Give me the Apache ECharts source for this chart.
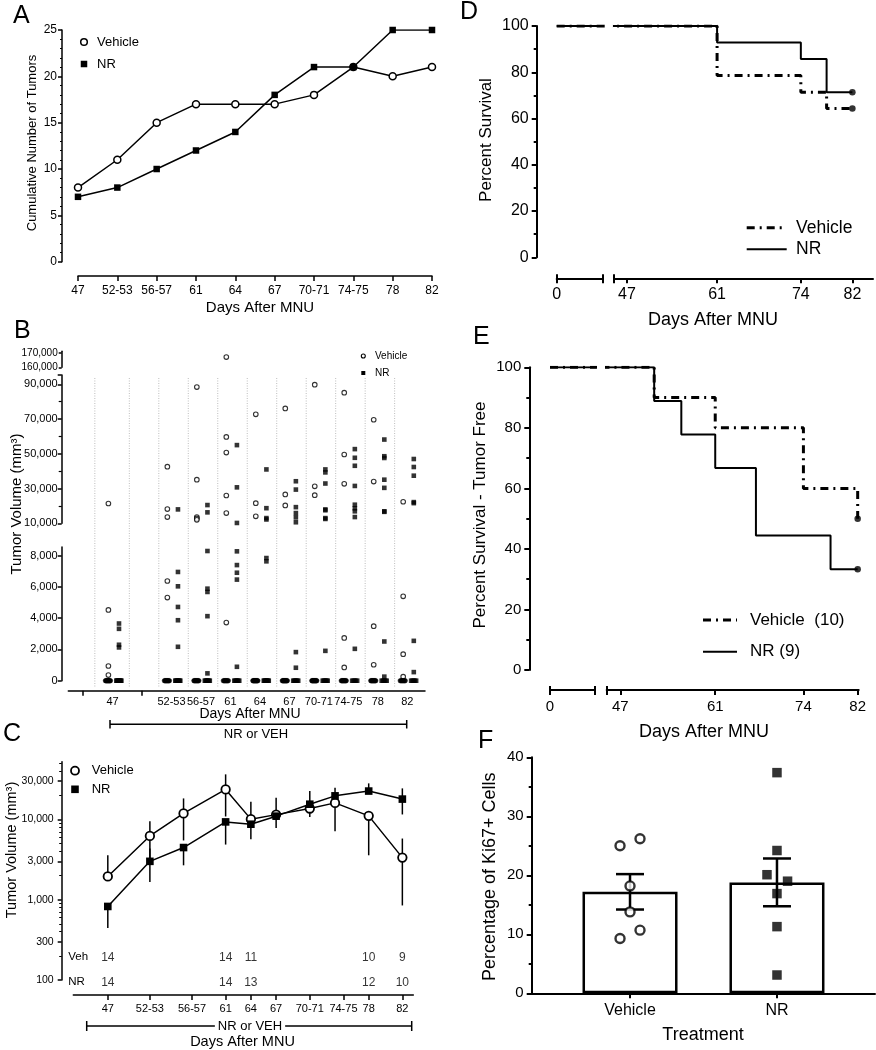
<!DOCTYPE html>
<html><head><meta charset="utf-8">
<script src="https://cdn.jsdelivr.net/npm/echarts@6/dist/echarts.min.js"></script>
<style>html,body{margin:0;padding:0;background:#fff}#c{width:876px;height:1050px}</style>
</head><body><div id="c"></div>
<script>
// ---------- Panel A ----------
const aCategories = ['47','52-53','56-57','61','64','67','70-71','74-75','78','82'];
const aVehicle = [8,11,15,17,17,17,18,21,20,21];
const aNR      = [7,8,10,12,14,18,21,21,25,25];

// ---------- Panel B ----------
const bCategories = ['47','52-53','56-57','61','64','67','70-71','74-75','78','82'];
const bVehicle = [
  [21400,4530,940,360],
  [42600,18200,13600,6380,5320],
  [88400,35100,13600,12800,12000],
  [167000,59700,50700,26000,15900,3720],
  [72700,21600,14000],
  [76100,26600,20300],
  [89800,31300,26200],
  [85200,49600,32700,2740,850],
  [69600,34000,3490,1020],
  [22400,5400,1700,260]
];
const bNR = [
  [3660,3320,2300,2130],
  [18000,6960,6040,4720,3870,2170],
  [20500,16300,8300,5890,5680,4130,470],
  [55000,30700,10200,8280,7400,6910,6470,890],
  [41000,18700,13000,12200,7850,7640],
  [34200,29400,19300,15900,13400,10600,1830,830],
  [41000,39300,32900,18000,17500,13000,12500,1910],
  [52700,47700,43100,31500,20700,18600,16900,13600,2040],
  [58200,48600,47600,35100,30400,16900,16600,2510,260],
  [47000,42400,37400,22200,21600,2550,550]
];
const bVehicleZeros = [10,9,9,8,11,11,11,9,9,7];
const bNRZeros      = [10,8,7,6,8,6,6,5,5,5];

// ---------- Panel C ----------
const cCategories = ['47','52-53','56-57','61','64','67','70-71','74-75','78','82'];
const cDays     = [47,52,56,61,64,67,71,74,78,82];
const cTickDays = [47,52,57,61,64,67,71,75,78,82];
const cVehMean = [1950,6240,11900,23700,10100,11500,13700,16100,11100,3350];
const cVehLow  = [null,2960,5480,10900,null,null,10730,7140,3580,849];
const cVehHigh = [3580,9520,18300,36500,16600,18600,null,null,null,5790];
const cNRMean  = [825,3010,4470,9330,8730,11000,15500,19700,22600,17950];
const cNRLow   = [446,1660,2685,4870,5680,7850,null,null,null,11550];
const cNRHigh  = [null,4360,null,null,null,null,22600,24830,28180,24410];
const cYTicks  = [100,300,1000,3000,10000,30000];
const cNDays = [47,61,64,78,82];
const cNVeh  = [14,14,11,10,9];
const cNNR   = [14,14,13,12,10];

// ---------- Panel D ----------
const dVehDays = [0,61,74,78,82];
const dVehSurv = [100,78.6,71.4,64.3,64.3];
const dNRDays  = [0,61,74,78,82];
const dNRSurv  = [100,92.9,85.7,71.4,71.4];

// ---------- Panel E ----------
const eVehDays = [0,52,61,74,82];
const eVehSurv = [100,90,80,60,50];
const eNRDays  = [0,52,56,61,67,78,82];
const eNRSurv  = [100,88.9,77.8,66.7,44.4,33.3,33.3];

// ---------- Panel F ----------
const fCategories = ['Vehicle','NR'];
const fMean = [17.2,18.8];
const fSEM  = [3.0,4.05];
const fVehPoints = [26.2,25.0,18.2,13.8,10.7,9.3];
const fNRPoints  = [37.4,24.2,20.1,19.0,16.9,11.3,3.1];

// ---------- layout constants ----------
const bSlots = [1,3,4,5,6,7,8,9,10,11];
const bBoundaries = [0.4,1.57,2.57,3.57,4.57,5.57,6.57,7.57,8.57,9.57,10.57];
const fVehJitter = [0.068,-0.068,0,0,0.068,-0.068];
const fNRJitter  = [0,0,-0.068,0.072,0,0,0];
const cMinorTicks = [200,400,500,600,700,800,900,2000,4000,5000,6000,7000,8000,9000,20000,40000,50000];

const FONT = '"Liberation Sans", Arial, Helvetica, sans-serif';
const K = '#000';
const DASHDOT = [8,5,2,5];

function merge(a,b){
  const o = Object.assign({}, a);
  for (const k in b){
    const v=b[k];
    if (v && typeof v==='object' && !Array.isArray(v) && a[k] && typeof a[k]==='object' && !Array.isArray(a[k])) o[k]=merge(a[k],v);
    else o[k]=v;
  }
  return o;
}
const baseAxis = {
  type:'value',
  axisLine:{show:true,onZero:false,lineStyle:{color:K,width:1.5}},
  axisTick:{show:true,inside:false,length:4,lineStyle:{color:K,width:1.5}},
  axisLabel:{show:true,color:K,fontFamily:FONT,fontSize:12,margin:6},
  splitLine:{show:false}, splitArea:{show:false},
  minorTick:{show:false}, minorSplitLine:{show:false}
};
const ax = o => merge(baseAxis, o);
const hid = (g,min,max) => ({type:'value',gridIndex:g,min:min,max:max,show:false,splitLine:{show:false}});
const fmtNum = v => Math.round(v).toLocaleString('en-US');
const grid = (l,t,w,h) => ({left:l,top:t,width:w,height:h,outerBoundsMode:'none',containLabel:false});

function nearestIdx(arr,v){let bi=0,bd=1e9;arr.forEach((a,i)=>{const d=Math.abs(a-v);if(d<bd){bd=d;bi=i;}});return bi;}

// B data helpers
function bSeg(vals, off, lo, hi){
  const out=[];
  vals.forEach((arr,i)=>arr.forEach(v=>{ if(v>lo && v<=hi) out.push([bSlots[i]+off, v]); }));
  return out;
}
function bZeros(counts, off0, span){
  const out=[];
  counts.forEach((n,i)=>{ for(let k=0;k<n;k++) out.push([bSlots[i]+off0+(n>1?k*span/(n-1):0), 0]); });
  return out;
}
const BV = -0.14, BN = 0.22;

// C helpers
const lg = Math.log10;
function errSegs(days, mean, low, high){
  const out=[];
  days.forEach((d,i)=>{
    if(low[i]!=null) out.push([d, lg(low[i]), lg(mean[i])]);
    if(high[i]!=null) out.push([d, lg(mean[i]), lg(high[i])]);
  });
  return out;
}
function vLine(params, api){
  const p1 = api.coord([api.value(0), api.value(1)]);
  const p2 = api.coord([api.value(0), api.value(2)]);
  return {type:'line', shape:{x1:p1[0],y1:p1[1],x2:p2[0],y2:p2[1]}, style:{stroke:K,lineWidth:1.5}};
}

const xAxis = [
  // 0 A
  ax({type:'category',gridIndex:0,data:aCategories,boundaryGap:false,offset:14.3,
      axisTick:{length:5},axisLabel:{fontSize:12,margin:9,interval:0}}),
  // 1,2 B hidden
  hid(1,-0.5,11.6), hid(2,-0.5,11.6),
  // 3 B bottom
  ax({gridIndex:3,min:-0.5,max:11.6,offset:10,
      axisTick:{customValues:[0,2],length:5},
      axisLabel:{customValues:bSlots,fontSize:11,margin:6,formatter:v=>bCategories[nearestIdx(bSlots,v)]}}),
  // 4 B lines
  hid(4,-0.5,11.6),
  // 5 C
  ax({gridIndex:5,min:42.9,max:83.3,offset:15,
      axisTick:{customValues:cTickDays,length:5},
      axisLabel:{customValues:cTickDays,fontSize:11,margin:8,formatter:v=>cCategories[nearestIdx(cTickDays,v)]}}),
  // 6 D1
  ax({gridIndex:6,min:0,max:7.2,offset:21,axisLine:{lineStyle:{width:2}},
      axisTick:{customValues:[0,7.2],length:5,lineStyle:{width:2}},
      axisLabel:{customValues:[0],fontSize:16,margin:8}}),
  // 7 D1 caps
  ax({gridIndex:6,min:0,max:7.2,offset:21,axisLine:{show:false},axisLabel:{show:false},
      axisTick:{inside:true,customValues:[0,7.2],length:4,lineStyle:{width:2}}}),
  // 8 D2
  ax({gridIndex:7,min:45,max:85.2,offset:21,axisLine:{lineStyle:{width:2}},
      axisTick:{customValues:[45,47,61,74,82],length:5,lineStyle:{width:2}},
      axisLabel:{customValues:[47,61,74,82],fontSize:16,margin:8}}),
  // 9 D2 caps
  ax({gridIndex:7,min:45,max:85.2,offset:21,axisLine:{show:false},axisLabel:{show:false},
      axisTick:{inside:true,customValues:[45],length:4,lineStyle:{width:2}}}),
  // 10 E1
  ax({gridIndex:8,min:0,max:6.5,offset:20,axisLine:{lineStyle:{width:2}},
      axisTick:{customValues:[0,6.5],length:5,lineStyle:{width:2}},
      axisLabel:{customValues:[0],fontSize:15,margin:9}}),
  // 11 E1 caps
  ax({gridIndex:8,min:0,max:6.5,offset:20,axisLine:{show:false},axisLabel:{show:false},
      axisTick:{inside:true,customValues:[0,6.5],length:4,lineStyle:{width:2}}}),
  // 12 E2
  ax({gridIndex:9,min:45,max:82.15,offset:20,axisLine:{lineStyle:{width:2}},
      axisTick:{customValues:[45,47,61,74,82],length:5,lineStyle:{width:2}},
      axisLabel:{customValues:[47,61,74,82],fontSize:15,margin:9}}),
  // 13 E2 caps
  ax({gridIndex:9,min:45,max:82.15,offset:20,axisLine:{show:false},axisLabel:{show:false},
      axisTick:{inside:true,customValues:[45],length:4,lineStyle:{width:2}}}),
  // 14 F
  ax({gridIndex:10,min:0.331,max:2.667,axisLine:{lineStyle:{width:2}},
      axisTick:{customValues:[1,2],length:5,lineStyle:{width:2}},
      axisLabel:{customValues:[1,2],fontSize:16,margin:9,formatter:v=>fCategories[Math.round(v)-1]}})
];
xAxis.forEach(a=>{ a.position='bottom'; });

const yAxis = [
  // 0 A
  ax({gridIndex:0,min:0,max:25,interval:5,offset:16,
      axisTick:{length:4},minorTick:{show:true,splitNumber:5,length:2,lineStyle:{color:K,width:1}},
      axisLabel:{fontSize:12,margin:5}}),
  // 1 B top
  ax({gridIndex:1,min:160000,max:171000,interval:10000,offset:6.6,
      axisTick:{length:3},axisLabel:{fontSize:10,margin:4,formatter:fmtNum}}),
  // 2 B mid
  ax({gridIndex:2,min:10000,max:95350,interval:20000,offset:6.6,
      axisTick:{length:4},minorTick:{show:true,splitNumber:2,length:3,lineStyle:{color:K,width:1.2}},
      axisLabel:{fontSize:11,margin:4,formatter:fmtNum}}),
  // 3 B bottom
  ax({gridIndex:3,min:0,max:8557,interval:2000,offset:6.6,
      axisTick:{length:4},axisLabel:{fontSize:11,margin:4,formatter:fmtNum}}),
  // 4 B lines
  hid(4,0,1),
  // 5 C
  ax({gridIndex:5,min:2,max:4.72,offset:11.6,
      axisTick:{customValues:cYTicks.map(lg),length:4},
      axisLabel:{customValues:cYTicks.map(lg),fontSize:10.5,margin:8,formatter:v=>fmtNum(Math.pow(10,v))}}),
  // 6 C minor
  ax({gridIndex:5,min:2,max:4.72,offset:11.6,axisLine:{show:false},axisLabel:{show:false},
      axisTick:{customValues:cMinorTicks.map(lg),length:2.5,lineStyle:{width:1}}}),
  // 7 D1
  ax({gridIndex:6,min:0,max:100,interval:20,offset:20,axisLine:{lineStyle:{width:2}},
      axisTick:{length:5,lineStyle:{width:2}},minorTick:{show:true,splitNumber:2,length:3,lineStyle:{color:K,width:2}},
      axisLabel:{fontSize:16,margin:8}}),
  // 8 D2 hidden
  hid(7,0,100),
  // 9 E1
  ax({gridIndex:8,min:0,max:100,interval:20,offset:20.7,axisLine:{lineStyle:{width:2}},
      axisTick:{length:5,lineStyle:{width:2}},minorTick:{show:true,splitNumber:2,length:3,lineStyle:{color:K,width:2}},
      axisLabel:{fontSize:15,margin:8}}),
  // 10 E2 hidden
  hid(9,0,100),
  // 11 F
  ax({gridIndex:10,min:0,max:40,interval:10,axisLine:{lineStyle:{width:2}},
      axisTick:{length:5,lineStyle:{width:2}},minorTick:{show:true,splitNumber:2,length:3,lineStyle:{color:K,width:2}},
      axisLabel:{fontSize:15,margin:8}})
];
yAxis.forEach(a=>{ a.position='left'; });

const series = [];
// A
series.push({type:'line',xAxisIndex:0,yAxisIndex:0,data:aVehicle,symbol:'circle',symbolSize:7,
  itemStyle:{color:'#fff',borderColor:K,borderWidth:1.5},lineStyle:{color:K,width:1.5},z:3});
series.push({type:'line',xAxisIndex:0,yAxisIndex:0,data:aNR,symbol:'rect',symbolSize:6.5,
  itemStyle:{color:K},lineStyle:{color:K,width:1.5},z:4});

// B gridlines
series.push({type:'custom',xAxisIndex:4,yAxisIndex:4,data:bBoundaries.map(v=>[v,0]),silent:true,z:1,
  renderItem:(params,api)=>{const x=api.coord([api.value(0),0])[0];const cs=params.coordSys;
    return {type:'line',shape:{x1:x,y1:cs.y,x2:x,y2:cs.y+cs.height},style:{stroke:'#bdbdbd',lineWidth:1,lineDash:[1,1.5]}};}});
// B points
const segs = [[1,150000,Infinity],[2,9000,150000],[3,0,9000]];
segs.forEach(([g,lo,hi])=>{
  series.push({type:'scatter',xAxisIndex:g,yAxisIndex:g,clip:false,data:bSeg(bVehicle,BV,lo,hi),symbol:'circle',symbolSize:4.6,
    itemStyle:{color:'#fff',borderColor:K,borderWidth:1.1},z:3});
  series.push({type:'scatter',xAxisIndex:g,yAxisIndex:g,clip:false,data:bSeg(bNR,BN,lo,hi),symbol:'rect',symbolSize:4.6,
    itemStyle:{color:K},z:3});
});
series.push({type:'scatter',xAxisIndex:3,yAxisIndex:3,clip:false,data:bZeros(bVehicleZeros,-0.24,0.17),symbol:'circle',symbolSize:4.6,
  itemStyle:{color:K,borderColor:K,borderWidth:0.5},z:3});
series.push({type:'scatter',xAxisIndex:3,yAxisIndex:3,clip:false,data:bZeros(bNRZeros,0.13,0.17),symbol:'rect',symbolSize:4.6,
  itemStyle:{color:K},z:3});

// C
series.push({type:'custom',xAxisIndex:5,yAxisIndex:5,data:errSegs(cDays,cVehMean,cVehLow,cVehHigh).concat(errSegs(cDays,cNRMean,cNRLow,cNRHigh)),
  renderItem:vLine,z:1,silent:true});
series.push({type:'line',xAxisIndex:5,yAxisIndex:5,data:cDays.map((d,i)=>[d,lg(cVehMean[i])]),symbol:'circle',symbolSize:8.5,
  itemStyle:{color:'#fff',borderColor:K,borderWidth:1.8},lineStyle:{color:K,width:1.5},z:3});
series.push({type:'line',xAxisIndex:5,yAxisIndex:5,data:cDays.map((d,i)=>[d,lg(cNRMean[i])]),symbol:'rect',symbolSize:7.6,
  itemStyle:{color:K},lineStyle:{color:K,width:1.5},z:4});
const nLabel = (vals,row)=>({type:'scatter',xAxisIndex:5,yAxisIndex:5,clip:false,symbol:'circle',symbolSize:1,
  itemStyle:{color:'rgba(0,0,0,0)'},data:cNDays.map((d,i)=>[d,row,vals[i]]),
  label:{show:true,position:'inside',color:K,fontFamily:FONT,fontSize:12,formatter:p=>String(p.value[2])}});
series.push(nLabel(cNVeh,2.2825));
series.push(nLabel(cNNR,1.9625));

// D / E
function km(xi,yi,days,surv,dash,w,z){
  return {type:'line',xAxisIndex:xi,yAxisIndex:yi,step:'end',symbol:'none',data:days.map((d,i)=>[d,surv[i]]),
    lineStyle:{color:K,width:w,type:dash?DASHDOT:'solid',cap:'butt'},z:z,silent:true};
}
[[6,7],[8,8]].forEach(([xi,yi])=>{
  series.push(km(xi,yi,dNRDays,dNRSurv,false,2,3));
  series.push(km(xi,yi,dVehDays,dVehSurv,true,3,4));
});
[[10,9],[12,10]].forEach(([xi,yi])=>{
  series.push(km(xi,yi,eNRDays,eNRSurv,false,2,3));
  series.push(km(xi,yi,eVehDays,eVehSurv,true,3,4));
});
const last = a => a[a.length-1];
series.push({type:'scatter',xAxisIndex:8,yAxisIndex:8,clip:false,symbol:'circle',symbolSize:6.5,itemStyle:{color:K},
  data:[[last(dVehDays),last(dVehSurv)],[last(dNRDays),last(dNRSurv)]],z:5});
series.push({type:'scatter',xAxisIndex:12,yAxisIndex:10,clip:false,symbol:'circle',symbolSize:6.5,itemStyle:{color:K},
  data:[[last(eVehDays),last(eVehSurv)],[last(eNRDays),last(eNRSurv)]],z:5});

// F
series.push({type:'bar',xAxisIndex:14,yAxisIndex:11,data:fMean.map((m,i)=>[i+1,m]),barWidth:95,
  itemStyle:{color:'#fff',borderColor:K,borderWidth:2.5},z:2,silent:true});
series.push({type:'custom',xAxisIndex:14,yAxisIndex:11,data:fMean.map((m,i)=>[i+1,m,fSEM[i]]),z:3,silent:true,
  renderItem:(params,api)=>{
    const x=api.value(0),m=api.value(1),s=api.value(2);
    const hi=api.coord([x,m+s]),lo=api.coord([x,m-s]);
    const st={stroke:K,lineWidth:2.5};
    return {type:'group',children:[
      {type:'line',shape:{x1:hi[0],y1:hi[1],x2:lo[0],y2:lo[1]},style:st},
      {type:'line',shape:{x1:hi[0]-14,y1:hi[1],x2:hi[0]+14,y2:hi[1]},style:st},
      {type:'line',shape:{x1:lo[0]-14,y1:lo[1],x2:lo[0]+14,y2:lo[1]},style:st}]};
  }});
series.push({type:'scatter',xAxisIndex:14,yAxisIndex:11,clip:false,symbol:'circle',symbolSize:9,
  itemStyle:{color:'#fff',borderColor:K,borderWidth:2.4},data:fVehPoints.map((v,i)=>[1+fVehJitter[i],v]),z:5});
series.push({type:'scatter',xAxisIndex:14,yAxisIndex:11,clip:false,symbol:'rect',symbolSize:9.5,
  itemStyle:{color:K},data:fNRPoints.map((v,i)=>[2+fNRJitter[i],v]),z:5});

// ---------- graphic decorations ----------
const T = (text,x,y,size,opt) => Object.assign({type:'text',x:x,y:y,silent:true,
  style:Object.assign({text:text,fill:K,fontFamily:FONT,fontSize:size,align:'left',verticalAlign:'middle'},(opt&&opt.style)||{})},
  opt&&opt.rotation!=null?{rotation:opt.rotation}:{});
const TC = (text,x,y,size) => T(text,x,y,size,{style:{align:'center'}});
const TR = (text,x,y,size) => T(text,x,y,size,{style:{align:'center'},rotation:Math.PI/2});
const L = (x1,y1,x2,y2,w,dash) => ({type:'line',silent:true,shape:{x1,y1,x2,y2},style:{stroke:K,lineWidth:w||1.5,lineDash:dash||null,lineCap:'butt'}});
const graphic = [
  // panel letters
  T('A',13,16,25), T('B',14,331.5,25), T('C',3,734,25), T('D',460,12.5,25), T('E',473,337.5,25), T('F',478,741,25),
  // A
  TR('Cumulative Number of Tumors',32,143,13), TC('Days After MNU',260,308,15),
  {type:'circle',shape:{cx:84,cy:42,r:3.3},style:{fill:'#fff',stroke:K,lineWidth:1.5}}, T('Vehicle',97,42,13),
  {type:'rect',shape:{x:80.75,y:60.75,width:6.5,height:6.5},style:{fill:K}}, T('NR',97,64,13),
  // B
  TR('Tumor Volume (mm³)',17,504,15), TC('Days After MNU',250,714,14),
  {type:'circle',shape:{cx:363.3,cy:356,r:2},style:{fill:'#fff',stroke:K,lineWidth:1.1}}, T('Vehicle',375,356,10),
  {type:'rect',shape:{x:361.3,y:371,width:4,height:4},style:{fill:K}}, T('NR',375,373,10),
  L(110,724.3,406.7,724.3,1.5), L(110,720,110,728.5,1.5), L(406.7,720,406.7,728.5,1.5),
  TC('NR or VEH',256,734,13),
  // C
  TR('Tumor Volume (mm³)',12,850,14.5),
  {type:'circle',shape:{cx:75,cy:770.7,r:4},style:{fill:'#fff',stroke:K,lineWidth:1.8}}, T('Vehicle',91.7,770.7,13),
  {type:'rect',shape:{x:71.2,y:785.5,width:7.6,height:7.6},style:{fill:K}}, T('NR',91.7,789.3,13),
  T('Veh',68.3,956.7,11.5), T('NR',68.3,982.3,11.5),
  L(86.7,1026,411.7,1026,1.5), L(86.7,1021,86.7,1031,1.5), L(411.7,1021,411.7,1031,1.5),
  T('NR or VEH',250,1026,13,{style:{align:'center',backgroundColor:'#fff',padding:[0,3]}}),
  TC('Days After MNU',242.5,1041.7,14.5),
  // D
  TR('Percent Survival',486.7,140,17), TC('Days After MNU',713,320,18),
  L(746.7,227.7,786.7,227.7,3,DASHDOT), T('Vehicle',796,227.7,17.5),
  L(746.7,249.3,786.7,249.3,2), T('NR',796,249.3,17.5),
  // E
  TR('Percent Survival - Tumor Free',480,515,17), TC('Days After MNU',704,732,18),
  L(703,620,737,620,3,DASHDOT), T('Vehicle  (10)',750,620,17),
  L(703,651.7,737,651.7,2), T('NR (9)',750,651.7,17),
  // F
  TR('Percentage of Ki67+ Cells',490,876.7,18), TC('Treatment',703,1035,18)
];

const option = {
  animation:false,
  backgroundColor:'#fff',
  textStyle:{fontFamily:FONT,color:K},
  grid:[
    grid(78,30,354,231.7),        // 0 A
    grid(68.3,351.3,356.7,16),    // 1 B top
    grid(68.3,375,356.7,148.3),   // 2 B mid
    grid(68.3,547,356.7,133.7),   // 3 B bottom
    grid(68.3,378,356.7,309),     // 4 B gridlines
    grid(73.3,761.7,340,218.3),   // 5 C
    grid(556.7,26,46,231.3),      // 6 D1
    grid(614,26,259,231.3),       // 7 D2
    grid(550,367.3,44.3,302.7),   // 8 E1
    grid(606.7,367.3,252,302.7),  // 9 E2
    grid(531.7,757.3,343.3,236)   // 10 F
  ],
  xAxis:xAxis, yAxis:yAxis, series:series, graphic:graphic
};
const chart = echarts.init(document.getElementById('c'),null,{renderer:'canvas'});
chart.setOption(option);
</script></body></html>
